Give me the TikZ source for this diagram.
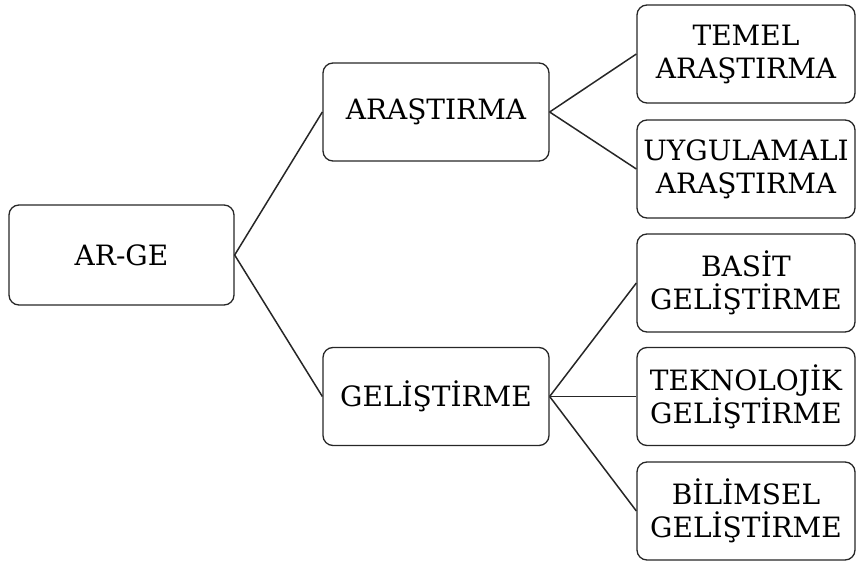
\documentclass[tikz,border=0pt]{standalone}
\usepackage{fontspec}
\setmainfont{DejaVu Serif}
\begin{document}
\begin{tikzpicture}[x=1pt,y=-1pt,
  box/.style={draw=black!85, line width=1.3pt, rounded corners=10pt, align=center,
    font=\fontsize{28}{33}\selectfont, text=black, inner sep=0pt},
  rootbox/.style={box, minimum width=225pt, minimum height=100pt},
  midbox/.style={box, minimum width=226pt, minimum height=98pt},
  leafbox/.style={box, minimum width=218pt, minimum height=98pt},
  link/.style={draw=black!85, line width=1.5pt}]
\useasboundingbox (0,0) rectangle (857,561);
\node[rootbox] (root) at (121.5,255) {AR-GE};
\node[midbox] (ar) at (436,112) {ARAŞTIRMA};
\node[midbox] (ge) at (436,396.5) {GELİŞTİRME};
\node[leafbox] (temel) at (746,54) {TEMEL\\ARAŞTIRMA};
\node[leafbox] (uyg) at (746,169) {UYGULAMALI\\ARAŞTIRMA};
\node[leafbox] (basit) at (746,283) {BASİT\\GELİŞTİRME};
\node[leafbox] (tek) at (746,396.5) {TEKNOLOJİK\\GELİŞTİRME};
\node[leafbox] (bil) at (746,511) {BİLİMSEL\\GELİŞTİRME};
\draw[link] (root.east) -- (ar.west);
\draw[link] (root.east) -- (ge.west);
\draw[link] (ar.east) -- (temel.west);
\draw[link] (ar.east) -- (uyg.west);
\draw[link] (ge.east) -- (basit.west);
\draw[link] (ge.east) -- (tek.west);
\draw[link] (ge.east) -- (bil.west);
\end{tikzpicture}
\end{document}
